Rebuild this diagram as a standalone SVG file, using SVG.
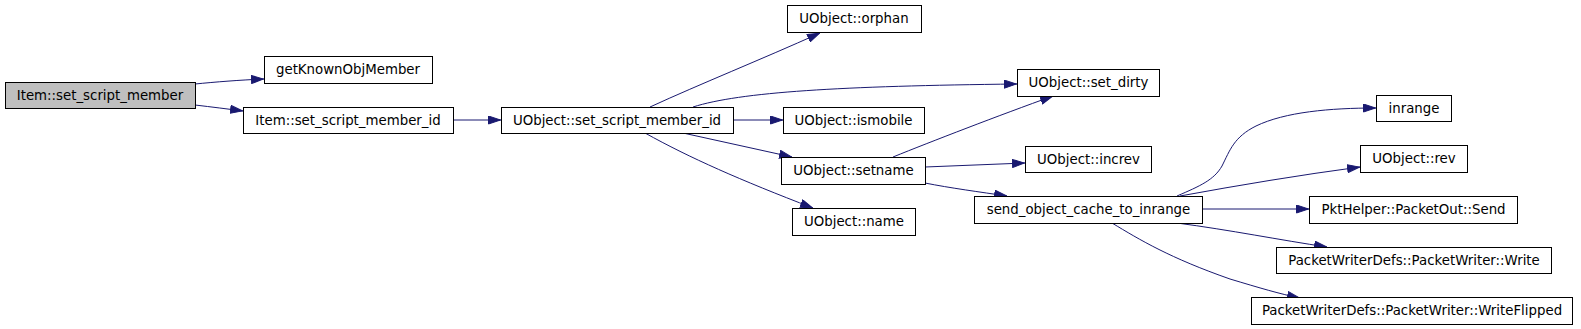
<svg xmlns="http://www.w3.org/2000/svg" width="1581" height="329" viewBox="0 0 1581 329">
<style>
.n rect{fill:#ffffff;stroke:#000000;stroke-width:1}
.root rect{fill:#bfbfbf}
.n text{font-family:"DejaVu Sans",sans-serif;font-size:13.33px;fill:#000000;text-anchor:middle}
.e path{fill:none;stroke:#191970;stroke-width:1;marker-end:url(#ah)}
</style>
<defs>
<marker id="ah" viewBox="0 0 13 9" refX="13" refY="4.5" markerWidth="13" markerHeight="9" markerUnits="userSpaceOnUse" orient="auto">
<path d="M0.5,0.5 L12.5,4.5 L0.5,8.5 z" fill="#191970" stroke="#191970" stroke-width="1"/>
</marker>
</defs>
<rect width="1581" height="329" fill="#ffffff"/>
<g id="edges" class="e">
<path d="M195,84 C215,82 240,80 264,79"/>
<path d="M195,105 C212,107 228,109 243,111"/>
<path d="M453,120 L501,120"/>
<path d="M650,107 C700,84 760,60 820,33"/>
<path d="M693,107 C740,92 840,86 1017,84"/>
<path d="M733,120 L783,120"/>
<path d="M683,133 L792,157"/>
<path d="M645,133 C690,158 740,180 813,208"/>
<path d="M893,157 C930,142 1000,115 1053,96"/>
<path d="M925,167 L1025,163"/>
<path d="M925,183 C950,188 980,192 1007,196"/>
<path d="M1177,196 C1200,186 1214,180 1222,166 C1230,150 1234,137 1256,126 C1285,112 1330,108 1376,108"/>
<path d="M1180,196 C1240,185 1300,175 1360,167"/>
<path d="M1202,209 L1309,209"/>
<path d="M1177,223 C1230,230 1280,240 1327,247"/>
<path d="M1112,223 C1140,240 1170,258 1230,279 C1260,288 1280,294 1300,298"/>
</g>
<g id="n_item_set_script_member" class="n root"><rect x="5.5" y="82.5" width="190" height="26"/><text x="100" y="99.5">Item::set_script_member</text></g>
<g id="n_getKnownObjMember" class="n"><rect x="264.5" y="56.5" width="168" height="27"/><text x="348" y="74">getKnownObjMember</text></g>
<g id="n_item_set_script_member_id" class="n"><rect x="243.5" y="107.5" width="210" height="26"/><text x="348" y="124.5">Item::set_script_member_id</text></g>
<g id="n_uobject_set_script_member_id" class="n"><rect x="501.5" y="107.5" width="232" height="26"/><text x="617" y="124.5">UObject::set_script_member_id</text></g>
<g id="n_orphan" class="n"><rect x="787.5" y="5.5" width="134" height="27"/><text x="854" y="23">UObject::orphan</text></g>
<g id="n_ismobile" class="n"><rect x="783.5" y="107.5" width="141" height="26"/><text x="853.5" y="124.5">UObject::ismobile</text></g>
<g id="n_setname" class="n"><rect x="781.5" y="157.5" width="144" height="27"/><text x="853.5" y="175">UObject::setname</text></g>
<g id="n_name" class="n"><rect x="792.5" y="208.5" width="123" height="27"/><text x="854" y="226">UObject::name</text></g>
<g id="n_set_dirty" class="n"><rect x="1017.5" y="69.5" width="142" height="27"/><text x="1088.5" y="87">UObject::set_dirty</text></g>
<g id="n_increv" class="n"><rect x="1025.5" y="146.5" width="126" height="26"/><text x="1088.5" y="163.5">UObject::increv</text></g>
<g id="n_send_object_cache_to_inrange" class="n"><rect x="974.5" y="196.5" width="228" height="27"/><text x="1088.5" y="214">send_object_cache_to_inrange</text></g>
<g id="n_inrange" class="n"><rect x="1376.5" y="95.5" width="75" height="26"/><text x="1414" y="112.5">inrange</text></g>
<g id="n_rev" class="n"><rect x="1360.5" y="145.5" width="107" height="27"/><text x="1414" y="163">UObject::rev</text></g>
<g id="n_send" class="n"><rect x="1309.5" y="196.5" width="208" height="27"/><text x="1413.5" y="214">PktHelper::PacketOut::Send</text></g>
<g id="n_write" class="n"><rect x="1276.5" y="247.5" width="275" height="26"/><text x="1414" y="264.5">PacketWriterDefs::PacketWriter::Write</text></g>
<g id="n_writeflipped" class="n"><rect x="1251.5" y="297.5" width="321" height="27"/><text x="1412" y="315">PacketWriterDefs::PacketWriter::WriteFlipped</text></g>
</svg>
